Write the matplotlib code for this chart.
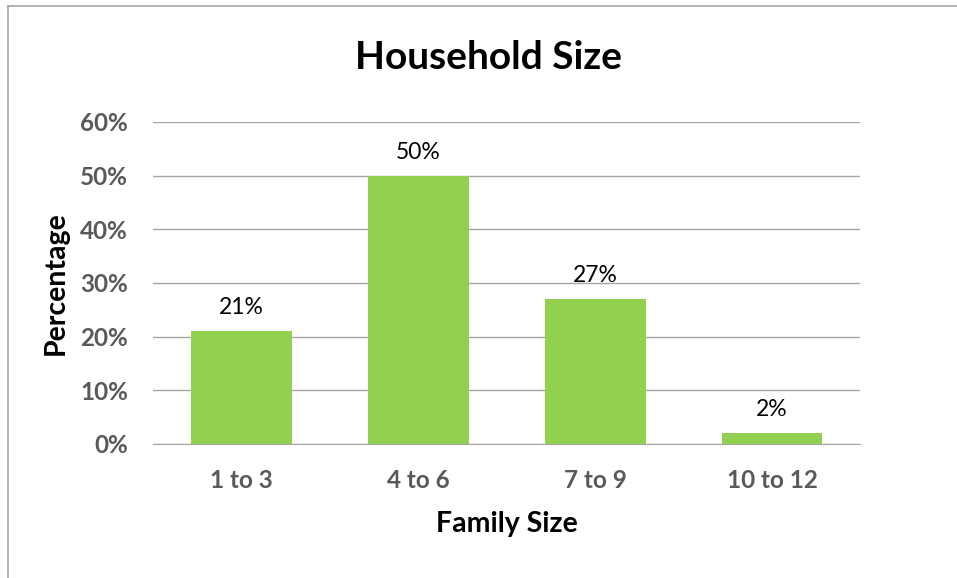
import matplotlib.pyplot as plt
from matplotlib.lines import Line2D
from matplotlib.ticker import PercentFormatter

plt.rcParams["font.family"] = ["Lato", "DejaVu Sans"]

CATEGORIES = ["1 to 3", "4 to 6", "7 to 9", "10 to 12"]
PERCENT = [0.21, 0.50, 0.27, 0.02]
LABELS = ["21%", "50%", "27%", "2%"]
Y_TICKS = [0, 0.1, 0.2, 0.3, 0.4, 0.5, 0.6]

BAR_COLOR = "#92D050"
TICK_COLOR = "#595959"
GRID_COLOR = "#A6A6A6"

fig = plt.figure(figsize=(9.57, 5.78), dpi=100)
ax = fig.add_axes([0.160, 0.232, 0.739, 0.557])

x = range(len(CATEGORIES))
bars = ax.bar(x, PERCENT, width=0.57, color=BAR_COLOR, zorder=3)

for b, lab in zip(bars, LABELS):
    ax.annotate(lab, xy=(b.get_x() + b.get_width() / 2, b.get_height()),
                xytext=(0, 17), textcoords="offset points", ha="center",
                va="center", fontsize=16.5, color="black")

ax.set_ylim(0, 0.6)
ax.set_xlim(-0.5, len(CATEGORIES) - 0.5)
ax.set_yticks(Y_TICKS)
ax.yaxis.set_major_formatter(PercentFormatter(1.0, decimals=0))
ax.set_xticks(list(x))
ax.set_xticklabels(CATEGORIES)

ax.grid(axis="y", color=GRID_COLOR, linewidth=1, zorder=0)
for s in ["top", "right", "left"]:
    ax.spines[s].set_visible(False)
ax.spines["bottom"].set_color(GRID_COLOR)
ax.tick_params(axis="both", length=0, labelsize=17.5, labelcolor=TICK_COLOR)
ax.tick_params(axis="y", pad=18)
ax.tick_params(axis="x", pad=18)
for t in ax.get_xticklabels() + ax.get_yticklabels():
    t.set_fontweight("bold")

ax.set_xlabel("Family Size", fontsize=20.5, fontweight="bold", labelpad=14)
ax.set_ylabel("Percentage", fontsize=20.5, fontweight="bold", labelpad=8)
fig.text(0.510, 0.900, "Household Size", ha="center", va="center",
         fontsize=28, fontweight="bold")

# chart frame (left and top edges)
fig.add_artist(Line2D([0.0085, 0.0085], [0, 0.99], color="#A6A6A6", lw=1.2,
                      transform=fig.transFigure))
fig.add_artist(Line2D([0.0085, 1], [0.99, 0.99], color="#A6A6A6", lw=1.2,
                      transform=fig.transFigure))

fig.savefig("out.png", dpi=100)
